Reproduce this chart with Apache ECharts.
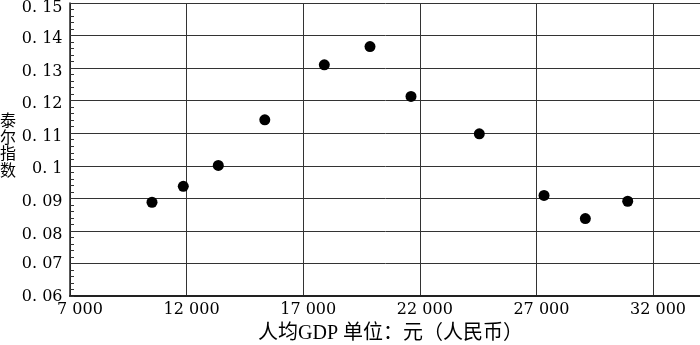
<!DOCTYPE html>
<html>
<head>
<meta charset="utf-8">
<script src="https://cdn.jsdelivr.net/npm/echarts@6/dist/echarts.min.js"></script>
<style>html,body{margin:0;padding:0;background:#fff;}#c{width:700px;height:345px;}</style>
</head>
<body>
<div id="c"></div>
<script>
// Data
const gdpPerCapita = [10516, 11858, 13359, 15353, 17905, 19864, 21622, 24551, 27326, 29097, 30914];
const theilIndex = [0.0888, 0.0937, 0.1001, 0.1141, 0.1310, 0.1366, 0.1213, 0.1098, 0.0909, 0.0838, 0.0891];
const xAxisTitle = '人均GDP 单位：元（人民币）';
const yAxisTitle = '泰\n尔\n指\n数';

const points = gdpPerCapita.map((x, i) => [x, theilIndex[i]]);
const serif = '"DejaVu Serif", "Liberation Serif", serif';
const lab = {fontFamily: serif, fontSize: 16, color: '#000'};

const chart = echarts.init(document.getElementById('c'), null, {renderer: 'canvas'});
chart.setOption({
  animation: false,
  backgroundColor: '#fff',
  grid: {left: 70, right: -23, top: 3, bottom: 49, containLabel: false, outerBoundsMode: 'none'},
  xAxis: {
    type: 'value', min: 7000, max: 35000, interval: 5000,
    axisLine: {show: true, onZero: false, lineStyle: {color: '#222', width: 2}},
    axisTick: {show: false},
    axisLabel: {
      margin: 6, showMaxLabel: false, ...lab,
      rich: {
        a: {...lab, padding: [0, 0, 0, 20]},
        b: {...lab, padding: [0, 0, 0, 10]}
      },
      formatter: v => {
        if (v >= 35000) return '';
        const s = String(v).replace(/\B(?=(\d{3})+(?!\d))/g, ' ');
        return (s.length < 6 ? '{a|' : '{b|') + s + '}';
      }
    },
    splitLine: {show: true, lineStyle: {color: '#333', width: 1}}
  },
  yAxis: {
    type: 'value', min: 0.06, max: 0.15, interval: 0.01,
    axisLine: {show: true, lineStyle: {color: '#222', width: 1.5}},
    axisTick: {show: true, inside: true, length: 4, lineStyle: {color: '#333'}},
    minorTick: {show: true, splitNumber: 5, length: 4, lineStyle: {color: '#333', width: 1}},
    axisLabel: {
      margin: 7.5, ...lab,
      rich: {
        t: {...lab, padding: [10, 0, 0, 0]},
        s: {...lab, padding: [7, 0, 0, 0]},
        n: {...lab, padding: [1, 0, 0, 0]}
      },
      formatter: v => {
        const r = Math.round(v * 100) / 100;
        const s = String(r).replace('.', '. ');
        const k = r >= 0.15 ? 't' : (r >= 0.08 ? 's' : 'n');
        return '{' + k + '|' + s + '}';
      }
    },
    splitLine: {show: true, lineStyle: {color: '#333', width: 1}}
  },
  graphic: [
    {
      type: 'text', left: 0, top: 112,
      style: {text: yAxisTitle, fontFamily: '"Noto Sans CJK SC", sans-serif', fontSize: 16, lineHeight: 16.5, fill: '#000'}
    },
    {
      type: 'text', left: 258, top: 324,
      style: {text: xAxisTitle, fontFamily: '"Liberation Serif", "Noto Sans CJK SC", serif', fontSize: 20, fill: '#000'}
    }
  ],
  series: [{
    type: 'scatter',
    data: points,
    symbol: 'circle',
    symbolSize: 11,
    itemStyle: {color: '#000', opacity: 1}
  }]
});
</script>
</body>
</html>
